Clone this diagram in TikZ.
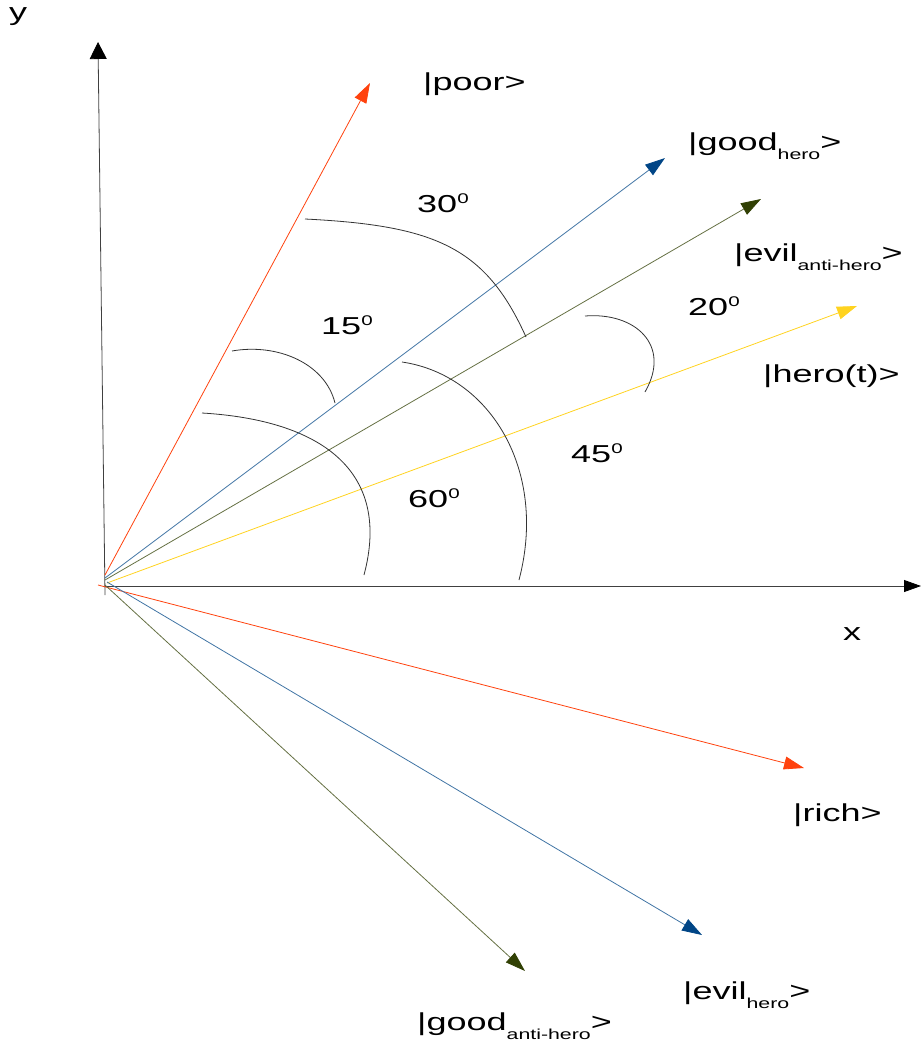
\documentclass[tikz,border=0pt]{standalone}
\usepackage{fontspec}
\setmainfont{Liberation Sans}
\usetikzlibrary{arrows.meta}
\definecolor{cblue}{HTML}{004586}
\definecolor{corange}{HTML}{FF420E}
\definecolor{cyellow}{HTML}{FFD320}
\definecolor{cgreen}{HTML}{314004}
\newcommand{\wt}[1]{\scalebox{1.47}[1]{#1}}
\newcommand{\sbs}[1]{\raisebox{-9pt}{\fontsize{14.5}{16}\selectfont #1}}
\newcommand{\dg}{\raisebox{9pt}{\fontsize{14}{16}\selectfont 0}}
\begin{document}
\begin{tikzpicture}[x=1pt,y=-1pt,
  lbl/.style={anchor=base west,inner sep=0pt,font=\fontsize{24.5}{28}\selectfont},
  vec/.style={line width=0.8pt,-{Triangle[length=20pt,width=13pt]}},
  vecc/.style={line width=0.8pt,draw=#1!75,-{Triangle[length=20pt,width=13pt,color=#1]}},
  axis/.style={line width=0.8pt,black!75},
  arcline/.style={line width=0.8pt,black!80}]
\useasboundingbox (0,0) rectangle (921,1044);
% origins
\coordinate (Ybot) at (105,595);
\coordinate (Ytip) at (98,42);
\coordinate (Xl) at (105,586);
\coordinate (Xtip) at (921,586);
\coordinate (Opoor) at (105,575);
\coordinate (Ogh) at (105,578);
\coordinate (Oeah) at (105,580);
\coordinate (Oht) at (107,583);
\coordinate (Orich) at (98,585);
\coordinate (Oeh) at (107,582);
\coordinate (Ogah) at (105,585);
% tips
\coordinate (Tpoor) at (370,83);
\coordinate (Tgh) at (665,158);
\coordinate (Teah) at (761,199);
\coordinate (Tht) at (857,306);
\coordinate (Trich) at (804,768);
\coordinate (Teh) at (702,935);
\coordinate (Tgah) at (525,971);
% axes
\draw[axis,-{Triangle[length=17pt,width=17pt,color=black]}] (Ybot) -- (Ytip);
\draw[axis,-{Triangle[length=17pt,width=12pt,color=black]}] (Xl) -- (Xtip);
% vectors
\draw[vec,corange] (Opoor) -- (Tpoor);
\draw[vecc=cblue] (Ogh) -- (Tgh);
\draw[vecc=cgreen] (Oeah) -- (Teah);
\draw[vec,cyellow] (Oht) -- (Tht);
\draw[vec,corange] (Orich) -- (Trich);
\draw[vecc=cblue] (Oeh) -- (Teh);
\draw[vecc=cgreen] (Ogah) -- (Tgah);
% arcs
\draw[arcline] (305,219) .. controls (435,225.5) and (485.5,247) .. (526,337);
\draw[arcline] (232,351) .. controls (277,343) and (325,363) .. (335,403);
\draw[arcline] (202,413) .. controls (320,420) and (392,470) .. (364,575);
\draw[arcline] (402,362) .. controls (490,375) and (548,470) .. (519,580);
\draw[arcline] (585,316) .. controls (635,312) and (672,345) .. (645,392);
% labels
\node[lbl] (ly) at (9,20) {\wt{y}};
\node[lbl] (lx) at (843,640) {\wt{x}};
\node[lbl] (lpoor) at (423,90) {\wt{|poor>}};
\node[lbl] (lgh) at (688,150) {\wt{|good\sbs{hero}>}};
\node[lbl] (leah) at (734,261) {\wt{|evil\sbs{anti-hero}>}};
\node[lbl] (lht) at (763,382) {\wt{|hero(t)>}};
\node[lbl] (lrich) at (793,821) {\wt{|rich>}};
\node[lbl] (leh) at (683,999) {\wt{|evil\sbs{hero}>}};
\node[lbl] (lgah) at (417,1030) {\wt{|good\sbs{anti-hero}>}};
\node[lbl] (a30) at (417,212) {\wt{30\dg}};
\node[lbl] (a15) at (321,334) {\wt{15\dg}};
\node[lbl] (a60) at (408,507) {\wt{60\dg}};
\node[lbl] (a45) at (571,462) {\wt{45\dg}};
\node[lbl] (a20) at (688,315) {\wt{20\dg}};
\end{tikzpicture}
\end{document}
